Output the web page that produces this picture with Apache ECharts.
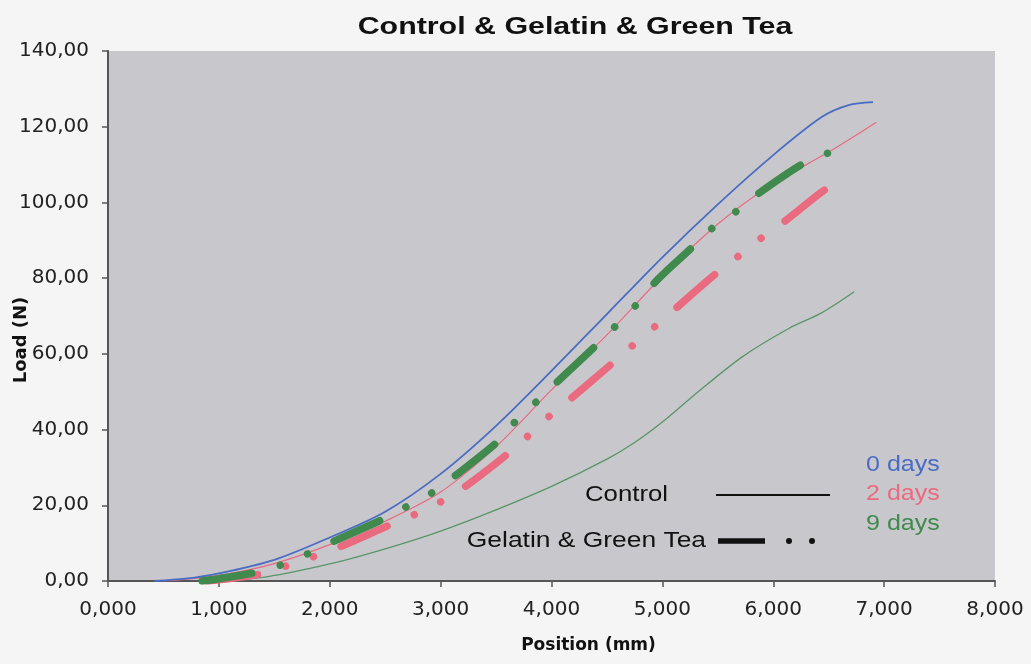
<!DOCTYPE html>
<html>
<head>
<meta charset="utf-8">
<script src="https://cdn.jsdelivr.net/npm/echarts@6/dist/echarts.min.js"></script>
<style>
html,body{margin:0;padding:0;background:#f5f5f5;}
#chart{width:1031px;height:664px;}
</style>
</head>
<body>
<div id="chart"></div>
<script>
// ---- Data (Position mm, Load N) ----
const control0 = [[0.42,0],[0.7,0.6],[1.0,2.0],[1.5,5.6],[2.0,11.5],[2.5,18.3],[3.0,28.3],[3.5,41],[4.0,55.5],[4.5,70.5],[5.0,85.5],[5.5,99.5],[6.0,112.5],[6.44,122.6],[6.68,125.7],[6.9,126.5]];
const control2 = [[0.5,0],[1.0,1.5],[1.5,4.6],[2.0,9.6],[2.5,15.8],[3.0,23.5],[3.5,35.5],[4.0,50.5],[4.5,65],[5.0,80.5],[5.5,94.3],[6.0,105],[6.5,113.3],[6.93,121.2]];
const control9 = [[1.0,0],[1.43,1.1],[2.0,4.5],[2.5,8.5],[3.0,13.2],[3.5,18.8],[4.0,25],[4.5,32.2],[4.75,36.6],[5.0,42],[5.27,48.7],[5.72,59.2],[6.14,66.7],[6.44,70.9],[6.73,76.4]];
const gel2 = [[0.9,0],[1.0,0.3],[1.37,1.8],[1.61,4.0],[1.85,6.4],[2.09,9.0],[2.54,14.8],[2.77,17.6],[3.0,20.9],[3.22,24.9],[3.58,33],[3.78,38.1],[3.96,43],[4.18,48.3],[4.52,56.8],[4.72,61.9],[4.92,66.9],[5.12,72],[5.45,80.4],[5.66,85.2],[5.87,90.1],[6.08,94.5],[6.44,102.8],[6.65,106.8]];
const gel9 = [[0.85,0],[1.0,0.6],[1.37,2.5],[1.61,4.8],[1.84,7.7],[2.06,10.8],[2.5,16.6],[2.72,20.1],[2.95,23.8],[3.14,28],[3.51,36.7],[3.68,42.3],[3.87,47.5],[4.07,53.1],[4.39,61.9],[4.58,67.4],[4.76,72.8],[4.95,79.4],[5.26,87.9],[5.45,93.2],[5.66,97.5],[5.87,102.4],[6.25,109.9],[6.49,113]];
const xTicks = {min:0, max:8, interval:1};
const yTicks = {min:0, max:140, interval:20};
const titleText = 'Control & Gelatin & Green Tea';
const dayLabels = ['0 days','2 days','9 days'];
const typeLabels = ['Control','Gelatin & Green Tea'];

const BLUE='#4a6cc4', PINK='#ea6a80', GREEN='#3f8a4c', GREEN_THIN='#5a9468';
const FONT='"Liberation Sans", Arial, sans-serif';
const WFONT='"DejaVu Sans", sans-serif';
const dashPattern=[50,29.5,0.01,29.5,0.01,29.5];

const chart = echarts.init(document.getElementById('chart'));
chart.setOption({
  backgroundColor:'#f5f5f5',
  animation:false,
  grid:{left:108,top:51,right:36,bottom:83,show:true,backgroundColor:'#c8c8cc',borderWidth:0,
    containLabel:false,outerBoundsMode:'none'},
  xAxis:{type:'value',min:xTicks.min,max:xTicks.max,interval:xTicks.interval,
    name:'Position (mm)',nameLocation:'middle',nameGap:56,nameMoveOverlap:false,
    nameTextStyle:{fontFamily:WFONT,fontSize:17,fontWeight:'bold',color:'#111',padding:[0,0,0,74]},
    axisLine:{show:true,lineStyle:{color:'#555',width:2}},
    axisTick:{show:true,length:6,lineStyle:{color:'#555',width:1.5}},
    splitLine:{show:false},
    axisLabel:{fontFamily:WFONT,fontSize:20,color:'#222',margin:19,
      formatter:v=>v.toFixed(3).replace('.',',')}},
  yAxis:{type:'value',min:yTicks.min,max:yTicks.max,interval:yTicks.interval,
    name:'Load (N)',nameLocation:'middle',nameGap:78,nameRotate:90,nameMoveOverlap:false,
    nameTextStyle:{fontFamily:WFONT,fontSize:18,fontWeight:'bold',color:'#111',padding:[0,48,0,0]},
    axisLine:{show:true,lineStyle:{color:'#555',width:2}},
    axisTick:{show:true,length:6,lineStyle:{color:'#555',width:1.5}},
    splitLine:{show:false},
    axisLabel:{fontFamily:WFONT,fontSize:20,color:'#222',margin:19,
      formatter:v=>v.toFixed(2).replace('.',',')}},
  series:[
    {type:'line',name:'Control 9',data:control9,smooth:0.3,symbol:'none',lineStyle:{color:GREEN_THIN,width:1.3}},
    {type:'line',name:'Control 2',data:control2,smooth:0.3,symbol:'none',lineStyle:{color:PINK,width:1.2}},
    {type:'line',name:'Control 0',data:control0,smooth:0.3,symbol:'none',lineStyle:{color:BLUE,width:1.8}},
    {type:'line',name:'Gel 2',data:gel2,smooth:0.3,symbol:'none',lineStyle:{color:PINK,width:7.5,type:dashPattern,cap:'round'}},
    {type:'line',name:'Gel 9',data:gel9,smooth:0.3,symbol:'none',lineStyle:{color:GREEN,width:7.5,type:dashPattern,cap:'round'}}
  ],
  graphic:[
    {type:'text',x:575,y:28,scaleX:1.32,style:{text:titleText,fill:'#111',font:'bold 23px '+FONT,align:'center',verticalAlign:'middle'}},
    {type:'text',x:866,y:465,scaleX:1.14,style:{text:dayLabels[0],fill:BLUE,font:'22px '+FONT,verticalAlign:'middle'}},
    {type:'text',x:866,y:494,scaleX:1.14,style:{text:dayLabels[1],fill:PINK,font:'22px '+FONT,verticalAlign:'middle'}},
    {type:'text',x:866,y:524,scaleX:1.14,style:{text:dayLabels[2],fill:GREEN,font:'22px '+FONT,verticalAlign:'middle'}},
    {type:'text',x:668,y:495,scaleX:1.17,style:{text:typeLabels[0],fill:'#111',font:'22px '+FONT,align:'right',verticalAlign:'middle'}},
    {type:'text',x:706,y:541,scaleX:1.2,style:{text:typeLabels[1],fill:'#111',font:'22px '+FONT,align:'right',verticalAlign:'middle'}},
    {type:'line',shape:{x1:716,y1:495,x2:830,y2:495},style:{stroke:'#111',lineWidth:2}},
    {type:'line',shape:{x1:718,y1:541,x2:765,y2:541},style:{stroke:'#111',lineWidth:5.5}},
    {type:'circle',shape:{cx:789,cy:541,r:3},style:{fill:'#111'}},
    {type:'circle',shape:{cx:812,cy:541,r:3},style:{fill:'#111'}}
  ]
});
</script>
</body>
</html>
